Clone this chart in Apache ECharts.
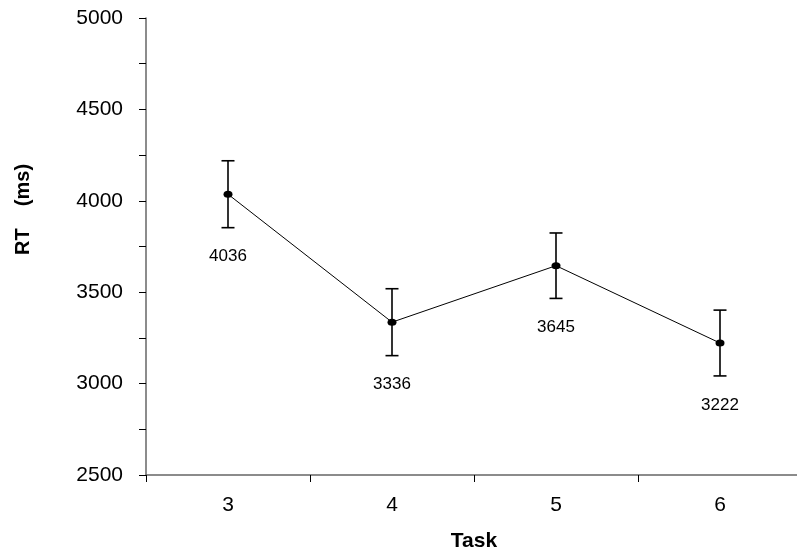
<!DOCTYPE html>
<html>
<head>
<meta charset="utf-8">
<script src="https://cdn.jsdelivr.net/npm/echarts@6/dist/echarts.min.js"></script>
<style>html,body{margin:0;padding:0;background:#fff}#c{width:797px;height:550px}</style>
</head>
<body>
<div id="c"></div>
<script>
var tasks = ['3', '4', '5', '6'];
var meanRT = [4036, 3336, 3645, 3222];
var errRT = [183, 183, 179, 180];
var yTicks = { min: 2500, max: 5000, interval: 500 };

var chart = echarts.init(document.getElementById('c'));
var FONT = 'Liberation Sans, Arial, sans-serif';

var errData = meanRT.map(function (m, i) { return [i, m - errRT[i], m + errRT[i]]; });

chart.setOption({
  animation: false,
  backgroundColor: '#fff',
  grid: { left: 146, right: -5, top: 18, bottom: 75, containLabel: false, outerBoundsMode: 'none' },
  xAxis: {
    type: 'category',
    data: tasks,
    boundaryGap: true,
    name: 'Task',
    nameLocation: 'middle',
    nameGap: 56,
    nameTextStyle: { fontFamily: FONT, fontSize: 21, fontWeight: 'bold', color: '#000' },
    axisLine: { show: true, lineStyle: { color: '#666', width: 1.5 } },
    axisTick: { show: true, inside: false, length: 7, alignWithLabel: false, lineStyle: { color: '#000', width: 1 } },
    axisLabel: { fontFamily: FONT, fontSize: 21, color: '#000', margin: 20 },
    splitLine: { show: false }
  },
  yAxis: {
    type: 'value',
    min: yTicks.min,
    max: yTicks.max,
    interval: yTicks.interval,
    name: 'RT    (ms)',
    nameLocation: 'middle',
    nameRotate: 90,
    nameGap: 113,
    nameTextStyle: { fontFamily: FONT, fontSize: 20, fontWeight: 'bold', color: '#000', padding: [0, 0, 0, 74] },
    axisLine: { show: true, lineStyle: { color: '#666', width: 1.5 } },
    axisTick: { show: true, inside: false, length: 7, lineStyle: { color: '#000', width: 1 } },
    minorTick: { show: true, splitNumber: 2, length: 7, lineStyle: { color: '#000', width: 1 } },
    axisLabel: { fontFamily: FONT, fontSize: 21, color: '#000', margin: 23, formatter: function (v) { return String(v); } },
    splitLine: { show: false },
    minorSplitLine: { show: false }
  },
  series: [
    {
      type: 'custom',
      data: errData,
      z: 3,
      renderItem: function (params, api) {
        var x = api.value(0);
        var lo = api.coord([x, api.value(1)]);
        var hi = api.coord([x, api.value(2)]);
        var w = 6.5;
        var st = { stroke: '#000', lineWidth: 1.6, fill: null };
        return {
          type: 'group',
          children: [
            { type: 'line', shape: { x1: hi[0], y1: hi[1], x2: lo[0], y2: lo[1] }, style: st },
            { type: 'line', shape: { x1: hi[0] - w, y1: hi[1], x2: hi[0] + w, y2: hi[1] }, style: st },
            { type: 'line', shape: { x1: lo[0] - w, y1: lo[1], x2: lo[0] + w, y2: lo[1] }, style: st }
          ]
        };
      }
    },
    {
      type: 'line',
      data: meanRT,
      z: 4,
      symbol: 'circle',
      symbolSize: [9, 7],
      itemStyle: { color: '#000' },
      lineStyle: { color: '#000', width: 1 },
      label: {
        show: true,
        position: 'inside',
        offset: [0, 62],
        fontFamily: FONT,
        fontSize: 17,
        color: '#000'
      }
    }
  ]
});
</script>
</body>
</html>
